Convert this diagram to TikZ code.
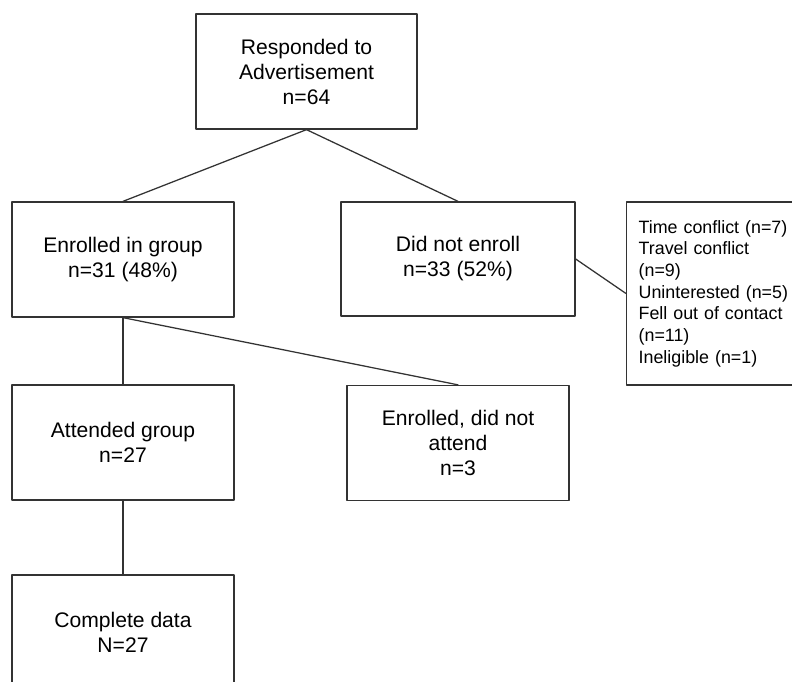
\documentclass[tikz,border=0pt]{standalone}
\usepackage{fontspec}
\setmainfont{Liberation Sans}
\begin{document}
\begin{tikzpicture}[x=0.025cm, y=-0.025cm, line cap=round, line join=round,
  box/.style={draw=black!80, line width=0.9pt, minimum width=5.55cm,
    minimum height=2.875cm, align=center, inner sep=0pt,
    font=\fontsize{15pt}{17.8pt}\selectfont},
  link/.style={draw=black!80, line width=0.9pt}]

%-----------------------
% 画幅：按原图 792x682 裁切（右侧与下方的框被截断）
%-----------------------
\clip (0,0) rectangle (792,682);

%-----------------------
% 方框
%-----------------------
\node[box, minimum width=5.525cm] (resp) at (306.5,71.5)
  {Responded to\\Advertisement\\n=64};
\node[box] (enr) at (123,259.5) {Enrolled in group\\n=31 (48\%)};
\node[box, minimum width=5.85cm, minimum height=2.85cm] (notenr) at (458,259)
  {Did not enroll\\n=33 (52\%)};
\node[box, anchor=west, minimum width=4.75cm, minimum height=4.575cm,
  inner xsep=0.3cm, text width=4.15cm, align=left,
  font=\fontsize{12.7pt}{15.4pt}\selectfont] (why) at (626,293.5)
  {Time conflict (n=7)\\Travel conflict\\(n=9)\\Uninterested (n=5)\\
   Fell out of contact\\(n=11)\\Ineligible (n=1)};
\node[box] (att) at (123,442.5) {Attended group\\n=27};
\node[box] (noatt) at (458,443) {Enrolled, did not\\attend\\n=3};
\node[box] (comp) at (123,632.5) {Complete data\\N=27};

%-----------------------
% 连线
%-----------------------
\draw[link] (resp.south) -- (enr.north);
\draw[link] (resp.south) -- (notenr.north);
\draw[link] (notenr.east) -- (why.west);
\draw[link] (enr.south) -- (att.north);
\draw[link] (enr.south) -- (noatt.north);
\draw[link] (att.south) -- (comp.north);

\end{tikzpicture}
\end{document}
